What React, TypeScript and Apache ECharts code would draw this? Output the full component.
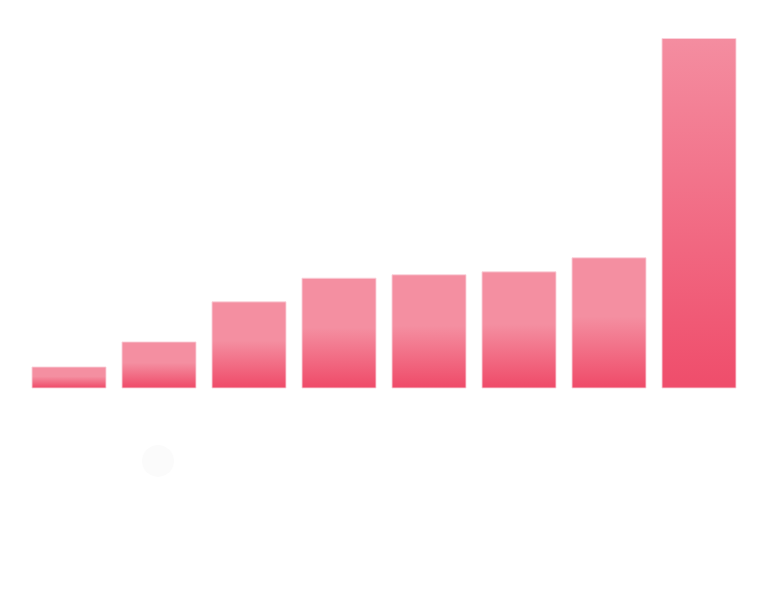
import React, { useEffect, useRef } from "react";
import * as echarts from "echarts";

const categories = ["A", "B", "C", "D", "E", "F", "G", "H"];
const values = [314, 671, 1243, 1581, 1629, 1671, 1871, 5000];

const normalGradient = () =>
  new echarts.graphic.LinearGradient(0, 0, 0, 1, [
    { offset: 0, color: "#f48fa1" },
    { offset: 0.45, color: "#f48fa1" },
    { offset: 1, color: "#ef4a68" },
  ]);

const lastGradient = () =>
  new echarts.graphic.LinearGradient(0, 0, 0, 1, [
    { offset: 0, color: "#f48da0" },
    { offset: 1, color: "#ef4d6b" },
  ]);

export default function App() {
  const ref = useRef<HTMLDivElement>(null);
  useEffect(() => {
    if (!ref.current) return;
    const chart = echarts.init(ref.current, undefined, { renderer: "svg" });
    chart.setOption({
      animation: false,
      grid: { left: 24, right: 24, top: 38, bottom: 221.5 },
      xAxis: {
        type: "category",
        data: categories,
        axisLine: { show: false },
        axisTick: { show: false },
        axisLabel: { show: true, color: "#ffffff" },
      },
      yAxis: {
        type: "value",
        min: 0,
        max: 5000,
        show: false,
        splitLine: { show: false },
      },
      series: [
        {
          type: "bar",
          barWidth: 75,
          data: values.map((v, i) => ({
            value: v,
            itemStyle: {
              color: i === values.length - 1 ? lastGradient() : normalGradient(),
              borderColor: "rgba(250,210,218,0.9)",
              borderWidth: 1,
            },
          })),
        },
      ],
      graphic: [
        {
          type: "circle",
          shape: { cx: 158, cy: 461, r: 16 },
          style: { fill: "#fbfbfb" },
        },
      ],
    });
    return () => chart.dispose();
  }, []);
  return (
    <div
      ref={ref}
      style={{ position: "absolute", left: 0, top: 0, width: 768, height: 610 }}
    />
  );
}
